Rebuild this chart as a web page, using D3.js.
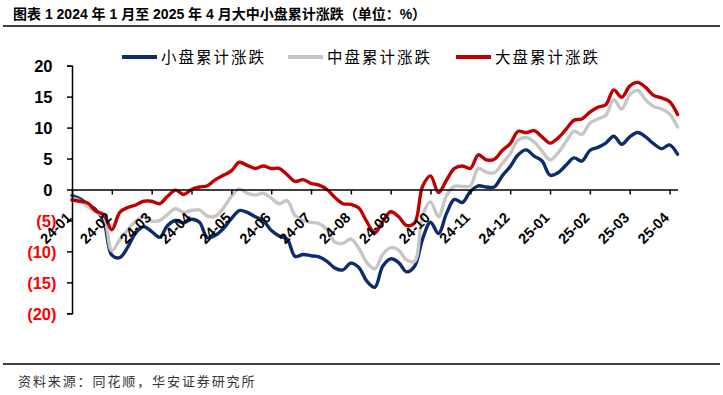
<!DOCTYPE html>
<html><head><meta charset="utf-8">
<script src="https://cdn.jsdelivr.net/npm/d3@7"></script>
<style>
body{margin:0;background:#fff;}
svg{display:block;}
</style></head>
<body>
<svg id="c" width="723" height="395"></svg>
<script>
// trading-day index of each sample (x axis is a trading-day category axis)
const days = [0,4,8,12,16,20,24,28,32,36,40,44,48,52,56,60,64,68,72,76,80,84,88,92,96,100,104,108,112,116,120,124,128,132,136,140,144,148,152,156,160,164,168,172,176,180,184,188,192,196,200,204,208,212,216,220,224,228,232,236,240,244,248,252,256,260,264,268,272,276,280,284,288,292,296,300,304];
const small = [-1.0,-1.5,-2.4,-3.3,-5.2,-10.6,-11.0,-9.3,-7.0,-6.0,-6.8,-7.7,-5.8,-5.0,-5.4,-4.8,-5.3,-7.8,-7.4,-6.3,-4.7,-3.4,-3.7,-4.4,-5.0,-6.6,-7.5,-8.0,-10.8,-10.5,-10.7,-10.9,-11.6,-12.7,-13.0,-11.9,-12.6,-14.8,-15.8,-12.4,-11.2,-11.8,-13.3,-12.4,-8.0,-5.3,-7.1,-3.9,-1.6,-2.1,-0.3,0.6,0.4,0.4,2.2,3.7,5.6,6.4,5.4,4.6,2.3,2.7,3.9,5.1,4.6,6.3,6.8,7.5,8.6,7.3,8.5,9.2,8.5,7.4,6.6,7.2,5.7];
const mid = [-1.4,-1.8,-2.8,-3.6,-4.4,-9.9,-8.1,-6.5,-5.1,-4.4,-5.1,-5.0,-4.0,-3.1,-3.7,-3.4,-3.3,-4.3,-4.3,-3.0,-1.1,0.1,-0.6,-0.9,-0.6,-1.4,-2.3,-1.8,-4.2,-5.0,-5.3,-5.5,-6.5,-8.5,-8.7,-8.0,-9.5,-11.8,-12.8,-10.5,-9.4,-9.8,-11.4,-11.6,-4.2,-2.0,-4.4,-1.0,0.5,0.5,0.6,3.4,2.8,2.7,4.2,5.8,8.0,8.4,7.7,6.2,4.8,5.9,7.7,9.4,8.9,10.7,11.4,12.0,14.5,13.0,15.3,16.0,14.5,13.4,13.0,12.2,10.1];
const large = [-1.7,-1.9,-2.2,-3.5,-4.1,-6.5,-3.7,-2.9,-2.5,-1.9,-1.9,-2.3,-1.1,-0.1,-0.8,0.0,0.4,0.6,1.6,2.3,3.0,4.4,3.9,3.4,3.8,3.4,3.4,2.4,1.3,1.6,1.0,0.7,0.0,-1.3,-2.3,-2.4,-3.0,-5.2,-7.0,-5.2,-3.6,-4.4,-5.8,-5.4,0.5,2.2,-0.5,1.5,3.4,3.8,3.4,5.6,4.8,4.9,6.3,7.4,9.4,9.2,9.5,8.5,7.5,8.3,9.7,11.2,11.4,12.5,13.3,13.7,16.1,14.9,16.7,17.3,16.5,15.2,14.8,14.2,12.1];
const tickDays = [0,20,40,60,80,100,120,140,160,180,200,220,240,260,280,300];
const tickLabels = ["24-01","24-02","24-03","24-04","24-05","24-06","24-07","24-08","24-09","24-10","24-11","24-12","25-01","25-02","25-03","25-04"];
const yTicks = [20,15,10,5,0,-5,-10,-15,-20];
const seriesNames = ["小盘累计涨跌","中盘累计涨跌","大盘累计涨跌"];
const seriesColors = ["#0C2C6C","#C6C6C6","#C00000"];
const titleText = "图表 1 2024 年 1 月至 2025 年 4 月大中小盘累计涨跌（单位：%）";
const sourceText = "资料来源：同花顺，华安证券研究所";

const svg = d3.select("#c");
const x = d3.scaleLinear().domain([0,304]).range([72,677.5]);
const y = d3.scaleLinear().domain([-20,20]).range([313.3,65.7]);

// title & rules
svg.append("text").attr("x",13).attr("y",18.5)
  .attr("font-family","'Liberation Sans','Noto Sans CJK SC',sans-serif")
  .attr("font-weight","bold").attr("font-size",14).attr("fill","#000").text(titleText);
svg.append("line").attr("x1",3).attr("x2",720).attr("y1",26).attr("y2",26)
  .attr("stroke","#000").attr("stroke-width",1.5);
svg.append("line").attr("x1",3).attr("x2",720).attr("y1",364).attr("y2",364)
  .attr("stroke","#000").attr("stroke-width",1.5);
svg.append("text").attr("x",18).attr("y",386)
  .attr("font-family","'Noto Sans CJK SC',sans-serif")
  .attr("font-size",13).attr("letter-spacing","1.9px").attr("fill","#333").text(sourceText);

// lines
const line = d3.line().x(d=>x(d[0])).y(d=>y(d[1])).curve(d3.curveCatmullRom.alpha(0.5));
[small,mid,large].forEach((s,i)=>{
  svg.append("path").datum(days.map((d,j)=>[d,s[j]]))
    .attr("d",line).attr("fill","none")
    .attr("stroke",seriesColors[i]).attr("stroke-width",3.4)
    .attr("stroke-linejoin","round").attr("stroke-linecap","round");
});

// y axis
const yAxis = d3.axisLeft(y).tickValues(yTicks).tickSize(5).tickFormat(()=>"");
const gy = svg.append("g").attr("transform",`translate(${x(0)},0)`).call(yAxis);
gy.select(".domain").attr("stroke","#000").attr("stroke-width",1.5);
gy.selectAll(".tick line").attr("stroke","#000").attr("stroke-width",1.5);
gy.selectAll(".tick").append("text")
  .attr("x",d=>d<0?-15.5:-19.5).attr("dy","0.36em")
  .attr("text-anchor","end")
  .attr("font-family","'Liberation Sans',Arial,sans-serif")
  .attr("font-weight","bold").attr("font-size",16.5)
  .attr("fill",d=>d<0?"#FF0000":"#000")
  .text(d=>d<0?`(${-d})`:`${d}`);

// x axis at zero
const xAxis = d3.axisBottom(x).tickValues(tickDays).tickSize(5).tickFormat(()=>"").tickSizeOuter(0);
const gx = svg.append("g").attr("transform",`translate(0,${y(0)})`).call(xAxis);
gx.select(".domain").attr("stroke","#000").attr("stroke-width",1.5);
gx.selectAll(".tick line").attr("stroke","#000").attr("stroke-width",1.5);
gx.selectAll(".tick").append("text")
  .attr("transform","translate(0,29) rotate(-45)")
  .attr("text-anchor","end")
  .attr("font-family","'Liberation Sans',Arial,sans-serif")
  .attr("font-weight","bold").attr("font-size",14.5)
  .attr("fill","#000")
  .text((d,i)=>tickLabels[i]);

// legend
const legX = [122,288,456];
seriesNames.forEach((n,i)=>{
  svg.append("line").attr("x1",legX[i]).attr("x2",legX[i]+35).attr("y1",57).attr("y2",57)
    .attr("stroke",seriesColors[i]).attr("stroke-width",4);
  svg.append("text").attr("x",legX[i]+39).attr("y",63)
    .attr("font-family","'Noto Sans CJK SC',sans-serif")
    .attr("font-size",15.5).attr("letter-spacing","2px").attr("fill","#000").text(n);
});
</script>
</body></html>
